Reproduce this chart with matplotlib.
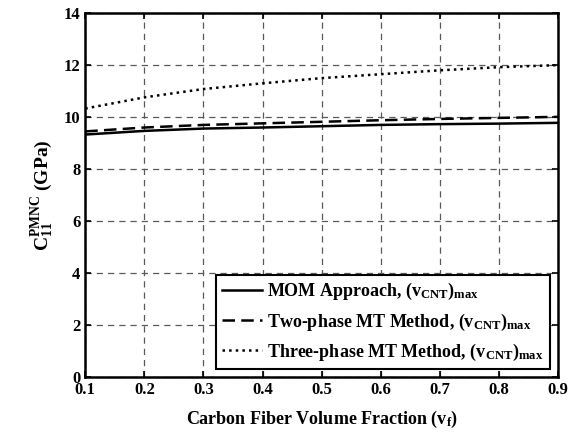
import numpy as np
import matplotlib.pyplot as plt

plt.rcParams['font.family'] = 'Liberation Serif'
plt.rcParams['font.weight'] = 'bold'
plt.rcParams['axes.labelweight'] = 'bold'
plt.rcParams['mathtext.fontset'] = 'custom'
plt.rcParams['mathtext.rm'] = 'Liberation Serif:bold'
plt.rcParams['mathtext.it'] = 'Liberation Serif:bold'
plt.rcParams['mathtext.bf'] = 'Liberation Serif:bold'

# carbon fiber volume fraction
vf = [0.1, 0.2, 0.3, 0.4, 0.5, 0.6, 0.7, 0.8, 0.9]
# C11 of PMNC (GPa)
mom = [9.33, 9.47, 9.56, 9.60, 9.65, 9.70, 9.73, 9.75, 9.78]
two_phase = [9.45, 9.60, 9.70, 9.76, 9.82, 9.88, 9.93, 9.97, 10.01]
three_phase = [10.33, 10.76, 11.08, 11.30, 11.50, 11.65, 11.80, 11.92, 12.0]

fig = plt.figure(figsize=(5.8, 4.37), dpi=100)
ax = fig.add_axes([0.147, 0.137, 0.815, 0.833])

ax.plot(vf, mom, 'k-', lw=1.8, label=r'MOM Approach, (v$_{\rm CNT}$)$_{\rm max}$')
ax.plot(vf, two_phase, 'k--', lw=1.8, dashes=(5, 2.5),
        label=r'Two-phase MT Method, (v$_{\rm CNT}$)$_{\rm max}$')
ax.plot(vf, three_phase, 'k:', lw=1.8,
        label=r'Three-phase MT Method, (v$_{\rm CNT}$)$_{\rm max}$')

ax.set_xlim(0.1, 0.9)
ax.set_ylim(0, 14)
ax.set_xticks(vf)
ax.set_xticklabels(['0.1', '0.2', '0.3', '0.4', '0.5', '0.6', '0.7', '0.8', '0.9'])
ax.set_yticks(range(0, 15, 2))
ax.tick_params(direction='in', labelsize=12, width=1.2, length=4, top=True, right=True)
ax.grid(True, color='0.35', linestyle=(0, (5, 4)), linewidth=0.9)
for s in ax.spines.values():
    s.set_linewidth(1.8)

ax.set_xlabel(r'Carbon Fiber Volume Fraction (v$_{\rm f}$)', fontsize=13, labelpad=8)
ax.set_ylabel(r'C$_{\rm 11}^{\rm PMNC}$ (GPa)', fontsize=14, labelpad=6)

leg = ax.legend(loc='lower right', fontsize=13, fancybox=False, framealpha=1,
                edgecolor='k', handlelength=2.2, borderpad=0.35, labelspacing=0.5,
                handletextpad=0.3, borderaxespad=0.45)
leg.get_frame().set_linewidth(1.5)

fig.savefig('out.png', dpi=100)
